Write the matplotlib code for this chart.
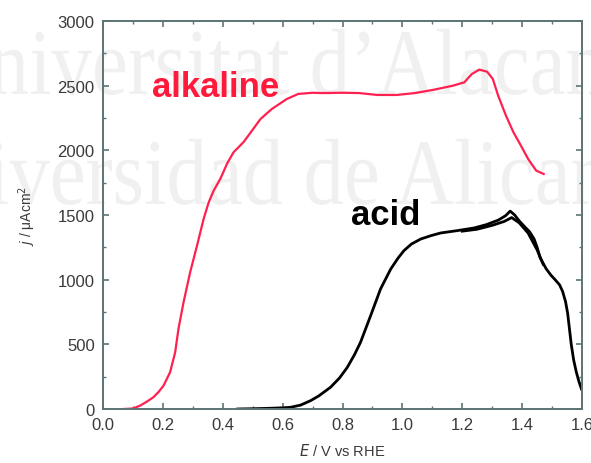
import matplotlib.pyplot as plt
from matplotlib.ticker import MultipleLocator
from matplotlib.textpath import TextPath, text_to_path
from matplotlib.patches import PathPatch
from matplotlib.font_manager import FontProperties
from matplotlib.transforms import Affine2D

# linear sweep, alkaline medium
alk_E = [0.07, 0.10, 0.124, 0.145, 0.168, 0.185, 0.202, 0.224, 0.241, 0.252,
         0.269, 0.291, 0.314, 0.336, 0.353, 0.37, 0.392, 0.415, 0.436, 0.47,
         0.50, 0.526, 0.564, 0.614, 0.652, 0.70, 0.728, 0.80, 0.854, 0.917,
         0.98, 1.043, 1.106, 1.169, 1.207, 1.232, 1.257, 1.283, 1.302, 1.32,
         1.346, 1.371, 1.396, 1.42, 1.447, 1.472]
alk_j = [0, 4, 26, 55, 90, 130, 180, 284, 438, 619,
         825, 1057, 1263, 1469, 1598, 1690, 1780, 1900, 1985, 2065,
         2160, 2242, 2320, 2397, 2436, 2445, 2443, 2445, 2443, 2428,
         2428, 2443, 2469, 2500, 2526, 2590, 2624, 2608, 2552, 2422,
         2268, 2139, 2036, 1933, 1843, 1817]

# acid medium
acid_E = [0.45, 0.50, 0.55, 0.60, 0.626, 0.66, 0.693, 0.72, 0.76, 0.79,
          0.816, 0.84, 0.86, 0.894, 0.927, 0.961, 0.985, 1.005, 1.03, 1.061,
          1.095, 1.128, 1.186, 1.24, 1.28, 1.32, 1.345, 1.36, 1.375, 1.39,
          1.406, 1.425, 1.44, 1.45, 1.46, 1.48, 1.496, 1.51, 1.525, 1.535,
          1.545, 1.552, 1.558, 1.564, 1.572, 1.581, 1.59, 1.598]
acid_j = [0, 2, 5, 9, 13, 30, 64, 100, 168, 240,
          322, 420, 515, 722, 928, 1082, 1165, 1224, 1275, 1314,
          1340, 1361, 1380, 1400, 1425, 1460, 1495, 1530, 1500, 1455,
          1415, 1370, 1314, 1250, 1170, 1085, 1035, 1000, 960, 910,
          830, 740, 620, 500, 380, 285, 210, 155]

# repeated scans near the peak
acid2_E = [1.20, 1.25, 1.30, 1.34, 1.365, 1.39, 1.42, 1.45, 1.47]
acid2_j = [1375, 1390, 1420, 1450, 1480, 1440, 1360, 1230, 1120]

plt.rcParams['font.family'] = ['Liberation Sans', 'DejaVu Sans']

fig = plt.figure(figsize=(5.91, 4.64), dpi=100)
ax = fig.add_axes([0.1743, 0.1164, 0.8105, 0.8362])
ax.set_facecolor('none')

# faint condensed serif lettering behind the axes (pixel coordinates)
em = 94
serif = FontProperties(family='Liberation Serif', size=em)


def stamp(text, prefix, x_at, baseline, squeeze=0.86):
    pre_w = text_to_path.get_text_width_height_descent(prefix, serif, ismath=False)[0]
    path = TextPath((0, 0), text, size=em, prop=serif)
    tr = Affine2D().scale(squeeze, 1).translate(x_at - squeeze * pre_w, baseline)
    fig.add_artist(PathPatch(path, transform=tr, fc='#f0f0f0', ec='none', zorder=-1))


stamp('Universitat d\u2019Alacant', 'Universitat d\u2019', 377, 369)
stamp('Universidad de Alicante', 'Universidad de ', 400, 259)

ax.plot(alk_E, alk_j, color='#ff2050', lw=1.6)
ax.plot(acid_E, acid_j, color='black', lw=2.0)
ax.plot(acid2_E, acid2_j, color='black', lw=2.0)

ax.text(0.165, 2490, 'alkaline', color='#ff1a3c', fontsize=25, fontweight='bold',
        ha='left', va='center')
ax.text(0.83, 1505, 'acid', color='black', fontsize=25, fontweight='bold',
        ha='left', va='center')

ax.set_xlim(0.0, 1.6)
ax.set_ylim(0, 3000)
ax.xaxis.set_major_locator(MultipleLocator(0.2))
ax.xaxis.set_minor_locator(MultipleLocator(0.1))
ax.yaxis.set_major_locator(MultipleLocator(500))
ax.yaxis.set_minor_locator(MultipleLocator(250))
ax.xaxis.set_major_formatter(lambda v, p: f'{v:.1f}')

frame = '#5c7474'
for s in ax.spines.values():
    s.set_color(frame)
    s.set_linewidth(1.4)
ax.tick_params(which='both', direction='in', top=True, right=True,
               color=frame, labelcolor='#3a3a3a', labelsize=12)
ax.tick_params(which='major', length=4, width=1.2, pad=6)
ax.tick_params(which='minor', length=2.5, width=1.0)

ax.set_xlabel('$E$ / V vs RHE', fontsize=10.5, color='#3a3a3a', labelpad=7)
ax.set_ylabel('$j$ / \u03bcAcm$^{2}$', fontsize=10, color='#3a3a3a', labelpad=14)

fig.savefig('out.png', dpi=100)
